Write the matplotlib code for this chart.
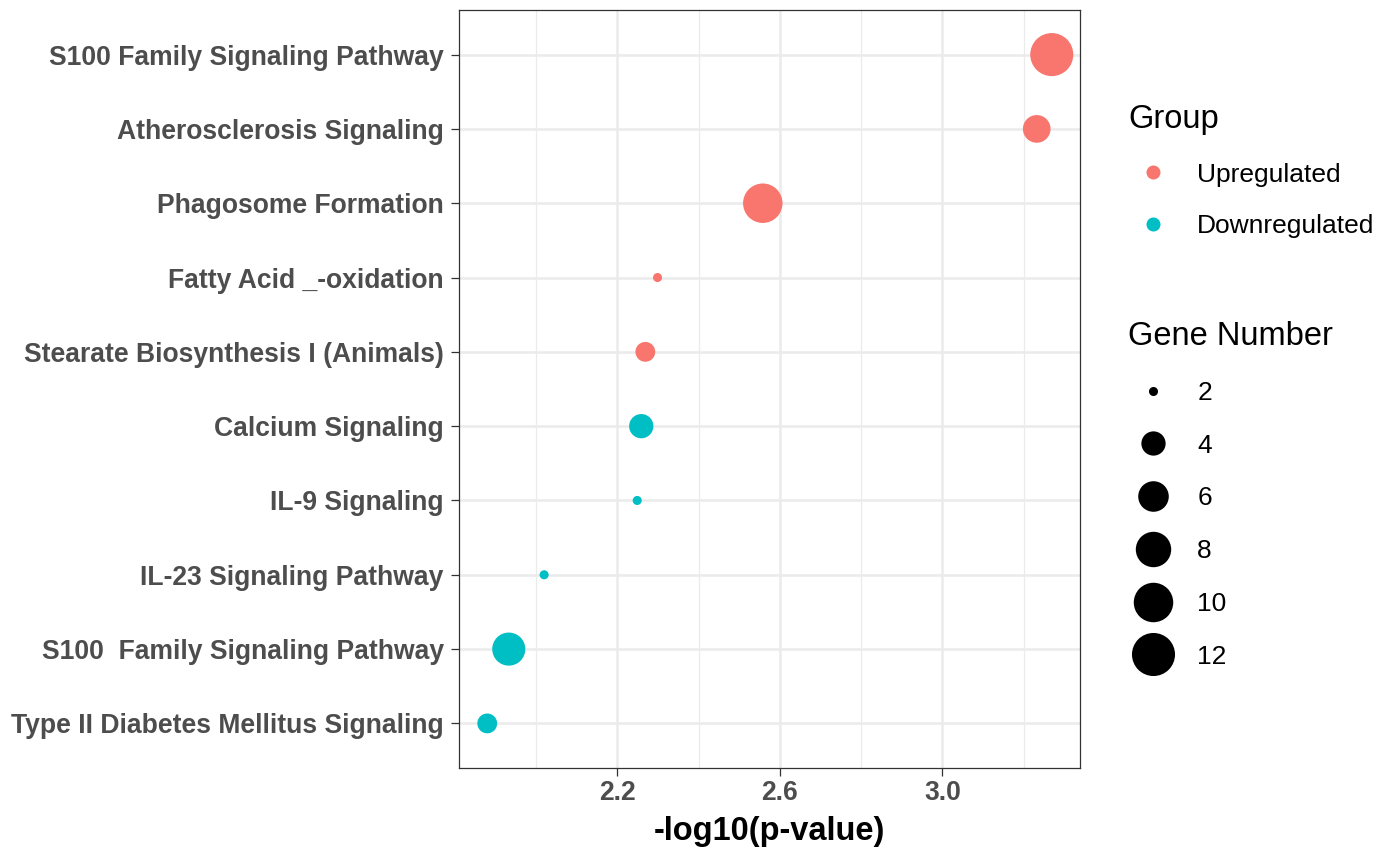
import numpy as np
import matplotlib
matplotlib.use('Agg')
import matplotlib.pyplot as plt
from matplotlib.lines import Line2D

plt.rcParams['font.family'] = ['Liberation Sans', 'DejaVu Sans']

# pathways, top to bottom
pathways = ['S100 Family Signaling Pathway', 'Atherosclerosis Signaling',
            'Phagosome Formation', 'Fatty Acid _-oxidation',
            'Stearate Biosynthesis I (Animals)', 'Calcium Signaling',
            'IL-9 Signaling', 'IL-23 Signaling Pathway',
            'S100  Family Signaling Pathway', 'Type II Diabetes Mellitus Signaling']
neglogp = [3.269, 3.232, 2.558, 2.299, 2.269, 2.259, 2.249, 2.020, 1.933, 1.880]
gene_num = [12, 5, 10, 2, 3, 4, 2, 2, 7, 3]
group = ['Upregulated'] * 5 + ['Downregulated'] * 5

group_names = ['Upregulated', 'Downregulated']
group_colors = {'Upregulated': '#F8766D', 'Downregulated': '#00BFC4'}
size_breaks = [2, 4, 6, 8, 10, 12]


def diam_px(v, vmin=2, vmax=12):
    # ggplot-like area scale, range 1..6
    size = 1 + 5 * np.sqrt((np.asarray(v, float) - vmin) / (vmax - vmin))
    return 2.39 * (2.845 * size + 0.945)


W, H = 1392, 848
fig = plt.figure(figsize=(W / 100, H / 100), dpi=100)
ax = fig.add_axes([459 / W, 1 - 768 / H, (1080 - 459) / W, (768 - 10) / H])

n = len(pathways)
ypos = np.arange(n)[::-1] + 1
cols = [group_colors[g] for g in group]
s = (diam_px(gene_num) * 0.72) ** 2
ax.scatter(neglogp, ypos, s=s, c=cols, linewidths=0, zorder=3)

xmin, xmax = min(neglogp), max(neglogp)
pad = (xmax - xmin) * 0.05
ax.set_xlim(xmin - pad, xmax + pad)
ax.set_ylim(0.4, n + 0.6)

ax.set_yticks(ypos)
ax.set_yticklabels(pathways)
ax.set_xticks([2.2, 2.6, 3.0])
ax.set_xticks([2.0, 2.4, 2.8, 3.2], minor=True)

ax.grid(True, which='major', color='#EBEBEB', lw=1.8, zorder=0)
ax.grid(True, which='minor', axis='x', color='#EBEBEB', lw=0.9, zorder=0)
ax.set_axisbelow(True)
for sp in ax.spines.values():
    sp.set_color('#333333')
    sp.set_linewidth(0.9)

ax.tick_params(axis='both', which='major', length=5.5, width=0.9, color='#333333',
               labelsize=19.1, labelcolor='#4D4D4D')
ax.tick_params(axis='x', which='major', pad=3)
ax.tick_params(axis='y', which='major', pad=5.5)
ax.tick_params(axis='x', which='minor', length=0)
for lab in ax.get_xticklabels() + ax.get_yticklabels():
    lab.set_fontweight('bold')

ax.set_xlabel('-log10(p-value)', fontsize=23.5, fontweight='bold', labelpad=7)

# Group legend
h_group = [Line2D([], [], marker='o', ls='none', markersize=14 * 0.72,
                  markeredgewidth=0, color=group_colors[g]) for g in group_names]
leg1 = fig.legend(h_group, group_names, title='Group', loc='upper left',
                  bbox_to_anchor=(1128 / W, 1 - 104 / H), frameon=False,
                  fontsize=19, title_fontsize=23.5, borderpad=0, borderaxespad=0,
                  handlelength=1.9, handletextpad=0.72, labelspacing=1.05,
                  alignment='left')

# Gene number legend
h_size = [Line2D([], [], marker='o', ls='none', markersize=float(diam_px(b)) * 0.72,
                 markeredgewidth=0, color='black') for b in size_breaks]
leg2 = fig.legend(h_size, [str(b) for b in size_breaks], title='Gene Number',
                  loc='upper left', bbox_to_anchor=(1128 / W, 1 - 321 / H),
                  frameon=False, fontsize=19, title_fontsize=23.5, borderpad=0,
                  borderaxespad=0, handlelength=1.9, handletextpad=0.72,
                  labelspacing=1.09, alignment='left')

fig.savefig('out.png', dpi=100)
